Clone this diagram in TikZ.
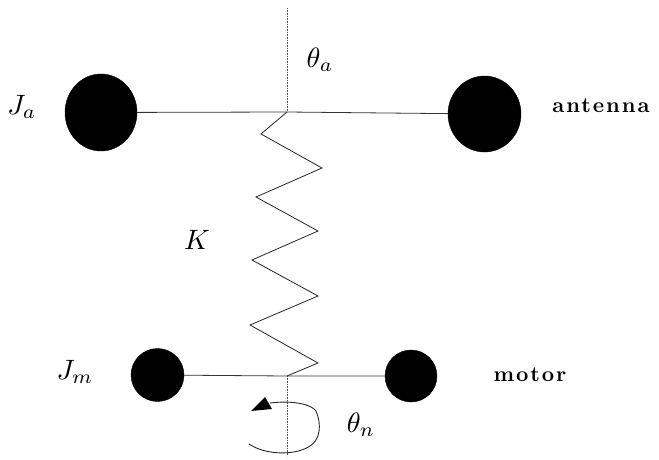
\documentclass[tikz,border=0pt]{standalone}
\usetikzlibrary{arrows.meta,shapes.geometric}
\usepackage{fontspec}
\newfontfamily\lblfont[LetterSpace=9]{lmroman10-bold.otf}
\tikzset{
  mass/.style={circle,fill=black,draw=black,inner sep=0pt},
  oval/.style={ellipse,fill=black,draw=black,inner sep=0pt},
  bar/.style={draw=black!80,line width=0.8pt},
  axisline/.style={draw=black!70,line width=0.6pt,densely dotted},
  springline/.style={draw=black!85,line width=0.8pt,line join=miter},
  mathlbl/.style={inner sep=0pt,scale=2.8,transform shape},
  wordlbl/.style={inner sep=0pt,font=\fontsize{21.5}{24}\lblfont},
  turn/.style={draw=black!85,line width=0.9pt}
}
\begin{document}
\begin{tikzpicture}[x=1pt,y=-1pt]
\useasboundingbox (0,0) rectangle (659,460);
\node[oval,minimum width=72pt,minimum height=77pt] (ja) at (101,112.5) {};
\node[oval,minimum width=73pt,minimum height=76pt] (aa) at (484.5,114) {};
\node[mass,minimum width=53pt] (jm) at (157.5,375) {};
\node[mass,minimum width=52pt] (mm) at (411,376) {};
\coordinate (hubtop) at (287,112);
\coordinate (hubbot) at (287,376);
\coordinate (axtop) at (287,8);
\coordinate (axbot) at (287,456);
\draw[bar] (ja) -- (hubtop) -- (aa);
\draw[bar] (jm) -- (hubbot) -- (mm);
\draw[axisline] (axtop) -- (hubtop);
\draw[axisline] (hubbot) -- (axbot);
\draw[springline] (hubtop) -- (261,134) -- (322,168) -- (256,197) -- (318,231) -- (252,260) -- (318,296) -- (250,325) -- (318,363) -- (hubbot);
\draw[turn] (270,403) .. controls (295,400) and (312,405) .. (316,411) .. controls (322,425) and (320,440) .. (310,446) .. controls (295,456) and (265,455) .. (249,444);
\fill[black] (251,411) -- (265,397) -- (272,409) -- cycle;
\node[mathlbl] (lja) at (22,107) {$J_a$};
\node[mathlbl] (lthetaa) at (320,60) {$\theta_a$};
\node[wordlbl] (lant) at (601,106) {antenna};
\node[mathlbl] (lk) at (197,240) {$K$};
\node[mathlbl] (ljm) at (75,372) {$J_m$};
\node[wordlbl] (lmot) at (530,375) {motor};
\node[mathlbl] (lthetan) at (361,425) {$\theta_n$};
\end{tikzpicture}
\end{document}
